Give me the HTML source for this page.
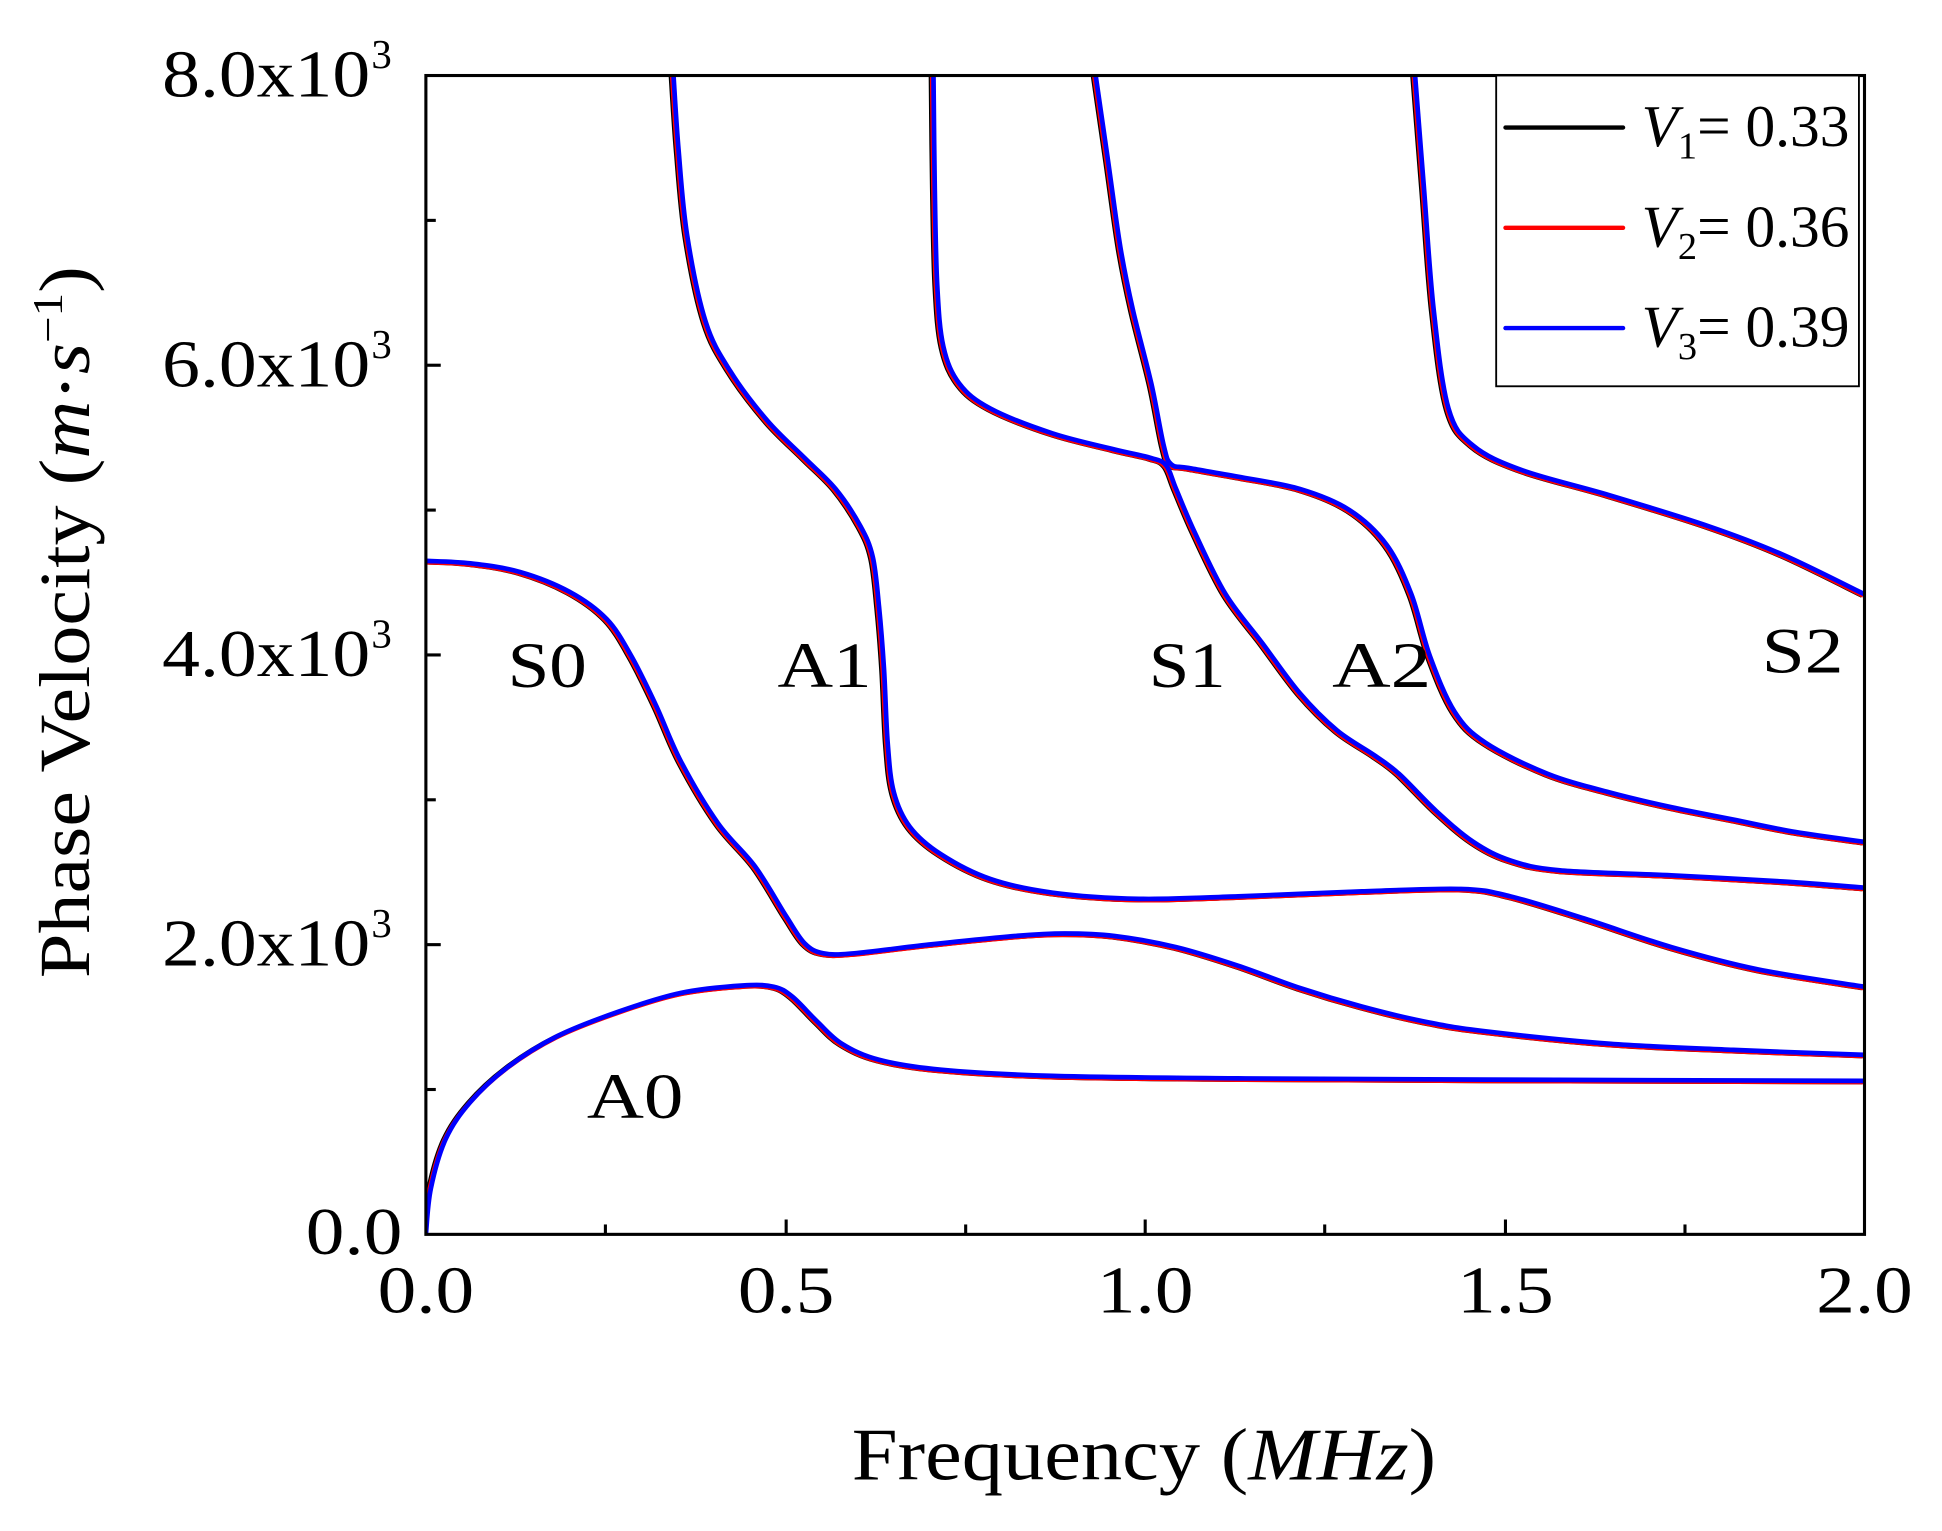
<!DOCTYPE html>
<html><head><meta charset="utf-8"><style>html,body{margin:0;padding:0;background:#fff}svg{display:block}</style></head>
<body>
<svg id="sv" width="1942" height="1531" viewBox="0 0 1568.6 1236.6" preserveAspectRatio="none" xmlns="http://www.w3.org/2000/svg" font-family="Liberation Serif, serif">
<defs>
<clipPath id="c"><rect x="344" y="61" width="1162" height="936"/></clipPath>
</defs>
<g clip-path="url(#c)" fill="none" stroke-linejoin="round" stroke-linecap="round">
<g id="curves" stroke-width="3.8">
<polyline class="sm" points="344,997 348,960 360,920 380,890 410,862 450,837 500,817 550,802 600,796 625,797 640,805 660,825 680,843 710,856 760,864 850,869 1000,871 1200,872 1506,873"/>
<polyline class="sm" points="344,453 380,455 420,462 460,478 490,500 510,530 530,570 550,615 580,665 610,700 635,740 650,762 665,770 690,770 750,763 820,756 860,754 900,756 950,765 1000,780 1050,798 1100,813 1150,825 1200,833 1300,843 1400,848 1506,852"/>
<polyline class="sm" points="544,61 548,120 555,190 570,260 590,300 620,340 650,370 675,395 695,425 705,450 710,490 714,540 717,600 722,640 735,668 760,690 800,710 850,721 920,726 1000,724 1100,720 1180,718 1220,724 1280,742 1350,765 1420,783 1506,797"/>
<polyline class="sm" points="754,61 755,150 757,230 762,280 775,310 800,330 850,350 900,363 930,370 942,376 950,395 965,430 990,480 1020,520 1050,560 1080,590 1110,610 1130,625 1160,655 1190,680 1220,695 1260,703 1350,707 1440,712 1506,717"/>
<polyline class="sm" points="885,61 895,130 905,200 915,250 930,310 940,360 946,375 960,378 1000,385 1050,395 1090,412 1120,440 1140,480 1155,530 1175,575 1200,600 1250,625 1300,640 1350,652 1400,662 1450,672 1506,680"/>
<polyline class="sm" points="1143,61 1150,150 1158,250 1170,330 1190,360 1230,380 1300,400 1380,425 1440,448 1506,480"/>
</g>
</g>
<g clip-path="url(#c)" fill="none" stroke-linejoin="round" stroke-width="3.8">
<use href="#curves" stroke="#000" transform="translate(-2,1)"/>
<use href="#curves" stroke="#f00" transform="translate(-1,1)"/>
<use href="#curves" stroke="#00f"/>
</g>
<rect x="344" y="61" width="1162" height="936" fill="none" stroke="#000" stroke-width="2.5"/>
<g stroke="#000" stroke-width="2.5">
<line x1="489" y1="997" x2="489" y2="989"/><line x1="635" y1="997" x2="635" y2="985"/>
<line x1="780" y1="997" x2="780" y2="989"/><line x1="925" y1="997" x2="925" y2="985"/>
<line x1="1070" y1="997" x2="1070" y2="989"/><line x1="1216" y1="997" x2="1216" y2="985"/>
<line x1="1361" y1="997" x2="1361" y2="989"/>
<line x1="344" y1="880" x2="352" y2="880"/><line x1="344" y1="763" x2="356" y2="763"/>
<line x1="344" y1="646" x2="352" y2="646"/><line x1="344" y1="529" x2="356" y2="529"/>
<line x1="344" y1="412" x2="352" y2="412"/><line x1="344" y1="295" x2="356" y2="295"/>
<line x1="344" y1="178" x2="352" y2="178"/>
</g>
<g font-size="54" fill="#000">
<text x="305" y="1060" textLength="78" lengthAdjust="spacingAndGlyphs">0.0</text><text x="596" y="1060" textLength="78" lengthAdjust="spacingAndGlyphs">0.5</text><text x="886" y="1060" textLength="78" lengthAdjust="spacingAndGlyphs">1.0</text><text x="1177" y="1060" textLength="78" lengthAdjust="spacingAndGlyphs">1.5</text><text x="1467" y="1060" textLength="78" lengthAdjust="spacingAndGlyphs">2.0</text>
</g>
<g font-size="54" fill="#000">
<text x="247" y="1013" textLength="78" lengthAdjust="spacingAndGlyphs">0.0</text>
<text x="131" y="780" textLength="168" lengthAdjust="spacingAndGlyphs">2.0x10</text><text x="131" y="546" textLength="168" lengthAdjust="spacingAndGlyphs">4.0x10</text><text x="131" y="312" textLength="168" lengthAdjust="spacingAndGlyphs">6.0x10</text><text x="131" y="78" textLength="168" lengthAdjust="spacingAndGlyphs">8.0x10</text>
</g>
<g font-size="33" fill="#000">
<text x="300" y="757">3</text><text x="300" y="523">3</text><text x="300" y="289">3</text><text x="300" y="55">3</text>
</g>
<text x="688" y="1195" font-size="60" textLength="472" lengthAdjust="spacingAndGlyphs">Frequency (<tspan font-style="italic">MHz</tspan>)</text>
<text transform="translate(72,790) rotate(-90)" font-size="58" textLength="575" lengthAdjust="spacingAndGlyphs">Phase Velocity (<tspan font-style="italic">m</tspan>·<tspan font-style="italic">s</tspan><tspan font-size="34" dy="-22">−1</tspan><tspan dy="22">)</tspan></text>
<g font-size="52" fill="#000">
<text x="410" y="555" textLength="64" lengthAdjust="spacingAndGlyphs">S0</text><text x="628" y="555" textLength="76" lengthAdjust="spacingAndGlyphs">A1</text><text x="928" y="555" textLength="62" lengthAdjust="spacingAndGlyphs">S1</text><text x="1076" y="555" textLength="80" lengthAdjust="spacingAndGlyphs">A2</text><text x="1423" y="543" textLength="66" lengthAdjust="spacingAndGlyphs">S2</text><text x="474" y="903" textLength="78" lengthAdjust="spacingAndGlyphs">A0</text>
</g>
<rect x="1208.5" y="61" width="293" height="251" fill="#fff" stroke="#000" stroke-width="1.5"/>
<g stroke-width="3.5" stroke-linecap="round">
<line x1="1216" y1="103" x2="1311" y2="103" stroke="#000"/>
<line x1="1216" y1="184" x2="1311" y2="184" stroke="#f00"/>
<line x1="1216" y1="265" x2="1311" y2="265" stroke="#00f"/>
</g>
<g font-size="48" fill="#000">
<text x="1326" y="118"><tspan font-style="italic">V</tspan><tspan font-size="31" dy="10">1</tspan><tspan dy="-10">= 0.33</tspan></text>
<text x="1326" y="199"><tspan font-style="italic">V</tspan><tspan font-size="31" dy="10">2</tspan><tspan dy="-10">= 0.36</tspan></text>
<text x="1326" y="280"><tspan font-style="italic">V</tspan><tspan font-size="31" dy="10">3</tspan><tspan dy="-10">= 0.39</tspan></text>
</g>
</svg>
<script>
document.querySelectorAll('polyline.sm').forEach(function(pl){
  var a=pl.getAttribute('points').trim().split(/\s+/).map(function(s){return s.split(',').map(Number);});
  var d='M'+a[0][0]+','+a[0][1];
  for(var i=0;i<a.length-1;i++){
    var p0=a[i-1]||a[i],p1=a[i],p2=a[i+1],p3=a[i+2]||a[i+1];
    var c1=[p1[0]+(p2[0]-p0[0])/6,p1[1]+(p2[1]-p0[1])/6];
    var c2=[p2[0]-(p3[0]-p1[0])/6,p2[1]-(p3[1]-p1[1])/6];
    d+=' C'+c1[0]+','+c1[1]+' '+c2[0]+','+c2[1]+' '+p2[0]+','+p2[1];
  }
  var p=document.createElementNS('http://www.w3.org/2000/svg','path');
  p.setAttribute('d',d);
  pl.parentNode.replaceChild(p,pl);
});
</script>
</body></html>
